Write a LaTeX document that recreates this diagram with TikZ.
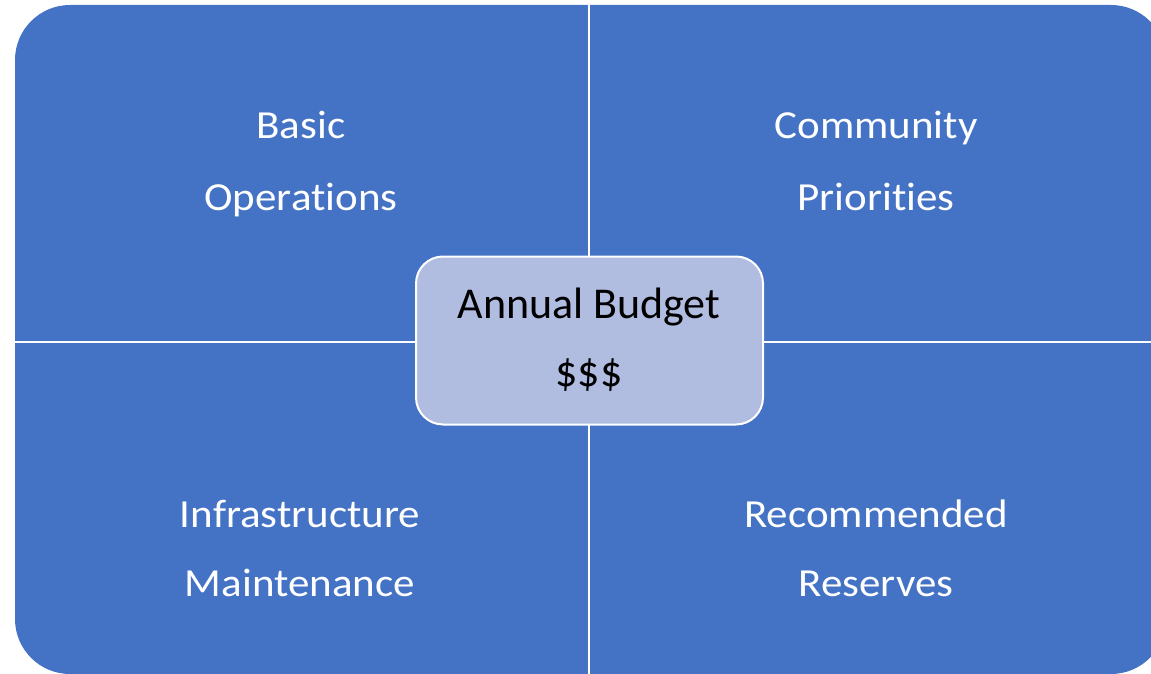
\documentclass[tikz,border=0pt]{standalone}
\usepackage{fontspec}
\setmainfont[Ligatures=NoCommon]{Carlito}
\newfontfamily\quadfont[FakeStretch=1.08,Ligatures=NoCommon]{Carlito}
\definecolor{matrixblue}{HTML}{4472C4}
\definecolor{centerfill}{HTML}{B0BDE1}
\begin{document}
\begin{tikzpicture}[x=1pt,y=-1pt,
  quadtext/.style={anchor=base,inner sep=0pt,text=white,font=\quadfont\fontsize{39.8}{47}\selectfont},
  centertext/.style={anchor=base,inner sep=0pt,text=black,font=\fontsize{44}{52}\selectfont},
  divider/.style={draw=white,line width=2pt},
  hubbox/.style={draw=white,line width=2pt,fill=centerfill,rounded corners=27pt,
    minimum width=347pt,minimum height=168pt,inner sep=0pt}]
\useasboundingbox (0,0) rectangle (1151,674);
\begin{scope}
  \clip (0,0) rectangle (1151,674);
  % outer matrix shape
  \fill[matrixblue,rounded corners=55pt] (15,5) rectangle (1166,674);
  % quadrant dividers
  \draw[divider] (589,0) -- (589,674);
  \draw[divider] (15,341.5) -- (1166,341.5);
\end{scope}
% central hub
\node[hubbox] (hub) at (589.5,340.5) {};
\node[centertext] (hubA) at (589,318) {Annual Budget};
\node[centertext] (hubB) at (589,386) {\$\$\$};
% quadrant labels
\node[quadtext] (q1a) at (301,139) {Basic};
\node[quadtext] (q1b) at (301,210) {Operations};
\node[quadtext] (q2a) at (876,139) {Community};
\node[quadtext] (q2b) at (876,210) {Priorities};
\node[quadtext] (q3a) at (300,527) {Infrastructure};
\node[quadtext] (q3b) at (300,596) {Maintenance};
\node[quadtext] (q4a) at (876,527) {Recommended};
\node[quadtext] (q4b) at (876,596) {Reserves};
\end{tikzpicture}
\end{document}
